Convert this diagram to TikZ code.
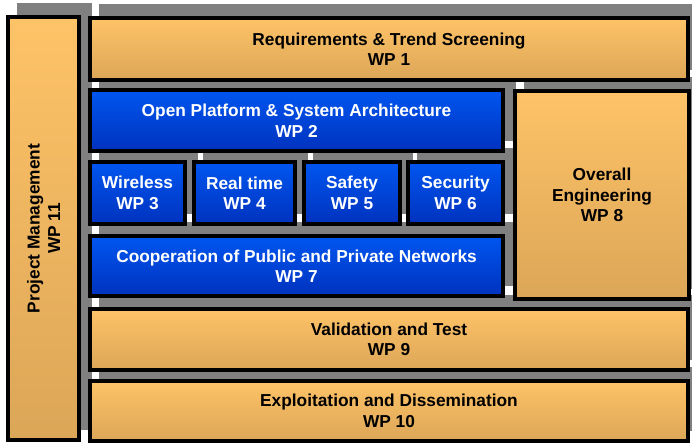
\documentclass[tikz,border=0pt]{standalone}
\usepackage{fontspec}
\setmainfont{Liberation Sans}
\usepackage{tikz}
\usetikzlibrary{backgrounds}
\usetikzlibrary{positioning}

\definecolor{orangetop}{RGB}{254,195,103}
\definecolor{orangebottom}{RGB}{220,166,88}
\definecolor{bluetop}{RGB}{0,86,240}
\definecolor{bluebottom}{RGB}{0,50,190}
\definecolor{shadowgray}{RGB}{128,128,128}

\begin{document}
\begin{tikzpicture}[x=1pt, y=1pt,
    wptext/.style={align=center, font=\fontsize{17.3}{20.5}\selectfont\bfseries},
    wpbox/.style={wptext, rectangle, draw=black, line width=4pt, inner sep=2pt},
    wporange/.style={wpbox, top color=orangetop, bottom color=orangebottom, text=black},
    wpblue/.style={wpbox, top color=bluetop, bottom color=bluebottom, text=white},
    wpshadow/.style={fill=shadowgray}]
        \useasboundingbox (0, 0) rectangle (692, 443);
        \node [wporange, minimum width=71pt, minimum height=423pt] (wp11) at (43.5, 214.5) {};
        \node [wptext, rotate=90] (wp11label) at (wp11) {Project Management\\WP 11};
        \node [wporange, minimum width=598pt, minimum height=62pt] (wp1) at (389, 394) {Requirements \& Trend Screening\\WP 1};
        \node [wpblue, minimum width=413pt, minimum height=61pt] (wp2) at (296.5, 322.5) {Open Platform \& System Architecture\\WP 2};
        \node [wpblue, minimum width=95pt, minimum height=62pt] (wp3) at (137.5, 250) {Wireless\\WP 3};
        \node [wpblue, minimum width=101pt, minimum height=62pt] (wp4) at (244.5, 250) {Real time\\WP 4};
        \node [wpblue, minimum width=96pt, minimum height=62pt] (wp5) at (352, 250) {Safety\\WP 5};
        \node [wpblue, minimum width=95pt, minimum height=62pt] (wp6) at (455.5, 250) {Security\\WP 6};
        \node [wpblue, minimum width=413pt, minimum height=60pt] (wp7) at (296.5, 177) {Cooperation of Public and Private Networks\\WP 7};
        \node [wporange, minimum width=174pt, minimum height=208pt] (wp8) at (602, 248) {Overall\\Engineering\\WP 8};
        \node [wporange, minimum width=598pt, minimum height=61pt] (wp9) at (389, 103.5) {Validation and Test\\WP 9};
        \node [wporange, minimum width=598pt, minimum height=60pt] (wp10) at (389, 32) {Exploitation and Dissemination\\WP 10};
        % shadows behind every box
        \begin{scope}[on background layer]
            \fill [white] (0, 0) rectangle (692, 443);
            \foreach \n in {wp1, wp2, wp3, wp4, wp5, wp6, wp7, wp8, wp9, wp10, wp11}
                \fill [wpshadow] ([shift={(11, 12)}]\n.south west) rectangle ([shift={(11, 12)}]\n.north east);
        \end{scope}
\end{tikzpicture}
\end{document}
